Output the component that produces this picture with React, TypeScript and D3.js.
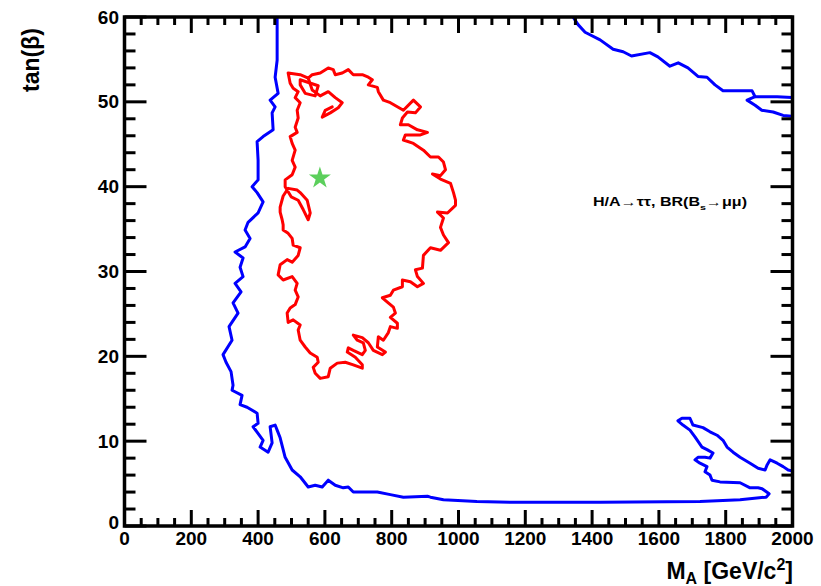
import React from "react";
import * as d3 from "d3";

// axis definitions
const xTickValues = [0, 200, 400, 600, 800, 1000, 1200, 1400, 1600, 1800, 2000];
const yTickValues = [0, 10, 20, 30, 40, 50, 60];

// blue contour: left arm, bottom, lower-right island (M_A, tanβ)
const blueMain: [number, number][] = [
  [457, 60.0], [457, 54.9], [451, 52.9], [460, 51.0], [436, 50.2], [451, 49.4], [442, 48.7],
  [445, 46.7], [415, 45.9], [397, 45.3], [400, 43.1], [400, 40.8], [382, 40.0], [397, 39.3],
  [415, 38.2], [400, 36.9], [370, 35.8], [361, 34.9], [376, 33.9], [361, 32.9], [331, 32.3],
  [355, 31.6], [346, 30.5], [355, 29.4], [331, 28.6], [349, 27.6], [325, 26.3], [340, 25.1],
  [313, 23.5], [322, 21.9], [295, 20.2], [304, 19.3], [319, 18.2], [325, 16.6], [322, 16.0],
  [352, 15.4], [346, 14.3], [367, 14.0], [397, 13.3], [400, 12.1], [385, 11.7], [415, 10.1],
  [406, 9.3], [430, 8.7], [442, 9.8], [436, 11.7], [451, 11.9], [457, 11.3], [466, 10.4],
  [481, 8.1], [502, 6.6], [526, 5.8], [550, 4.6], [571, 4.8], [592, 4.6], [610, 5.4],
  [631, 4.8], [655, 4.5], [670, 4.6], [685, 4.0], [715, 4.0], [757, 4.0], [796, 3.7],
  [835, 3.4], [907, 3.5], [916, 3.4], [955, 3.1], [1055, 2.9], [1154, 2.8], [1424, 2.8],
  [1723, 2.9], [1843, 3.1], [1921, 3.4], [1930, 3.8], [1909, 4.4], [1897, 4.5], [1873, 4.5],
  [1843, 5.1], [1783, 5.2], [1759, 5.4], [1753, 6.0], [1738, 6.4], [1744, 7.0], [1723, 7.4],
  [1708, 7.8], [1717, 8.1], [1738, 8.1], [1753, 8.0], [1762, 8.6], [1744, 9.0], [1729, 9.3],
  [1708, 10.5], [1693, 11.3], [1672, 11.9], [1657, 12.4], [1669, 12.7], [1693, 12.7],
  [1702, 11.9], [1732, 11.6], [1753, 11.1], [1774, 10.7], [1792, 10.1], [1804, 9.3],
  [1822, 8.7], [1843, 8.1], [1873, 7.4], [1897, 6.8], [1918, 6.6], [1924, 7.2], [1933, 7.8],
  [1954, 7.4], [1972, 7.0], [1987, 6.6], [1998, 6.5],
];

// blue contour: upper-right edge
const blueTopRight: [number, number][] = [
  [1343, 60.0], [1358, 59.1], [1379, 58.2], [1424, 57.3], [1463, 56.2], [1493, 55.9],
  [1518, 55.4], [1573, 55.8], [1597, 55.3], [1633, 54.2], [1658, 54.6], [1687, 54.0],
  [1717, 53.0], [1744, 52.9], [1768, 52.0], [1792, 51.3], [1879, 51.3], [1888, 50.6],
  [1954, 50.6], [1998, 50.5],
];

const blueTopRightBranch: [number, number][] = [
  [1888, 50.6], [1864, 50.2], [1888, 49.6], [1908, 49.0], [1942, 48.8], [1972, 48.4], [1998, 48.3],
];

// red contour
const redContour: [number, number][] = [
  [490, 53.4], [526, 53.2], [550, 52.8], [562, 53.2], [586, 53.4], [610, 54.0], [625, 53.8],
  [631, 53.2], [652, 53.4], [670, 53.8], [685, 53.2], [712, 53.2], [730, 52.9], [742, 52.6],
  [730, 52.0], [757, 51.7], [760, 51.2], [775, 50.2], [796, 49.9], [835, 49.0], [865, 50.2],
  [886, 49.4], [871, 48.7], [847, 48.8], [832, 48.1], [826, 47.3], [850, 47.3], [877, 46.7],
  [907, 46.4], [886, 46.1], [841, 46.1], [835, 45.5], [865, 45.1], [895, 44.3], [916, 43.5],
  [940, 43.5], [955, 42.9], [961, 42.0], [946, 41.3], [922, 41.5], [946, 40.9], [976, 40.4],
  [985, 39.3], [991, 38.4], [991, 37.8], [967, 36.9], [937, 37.0], [955, 36.3], [946, 35.2],
  [955, 34.3], [970, 33.4], [946, 32.5], [916, 32.8], [895, 31.9], [892, 30.4], [871, 30.2],
  [877, 29.4], [895, 28.6], [877, 28.2], [856, 28.8], [832, 29.0], [832, 28.2], [805, 27.8],
  [796, 27.2], [772, 26.9], [787, 26.4], [805, 25.8], [811, 25.1], [796, 24.6], [817, 23.9],
  [817, 23.3], [796, 23.5], [790, 22.8], [775, 21.9], [760, 22.3], [757, 21.1], [781, 20.5],
  [772, 20.2], [745, 20.7], [730, 21.6], [712, 22.2], [685, 22.5], [697, 21.9], [715, 21.6],
  [721, 20.7], [712, 20.2], [685, 20.7], [670, 21.0], [667, 20.5], [691, 19.9], [712, 19.0],
  [712, 18.6], [685, 19.0], [661, 19.3], [637, 19.2], [616, 18.6], [610, 17.6], [586, 17.4],
  [571, 18.0], [565, 18.7], [580, 19.3], [577, 19.9], [556, 20.4], [541, 21.1], [526, 21.9],
  [520, 23.1], [526, 23.7], [505, 24.3], [490, 24.0], [487, 25.1], [496, 25.7], [511, 26.1],
  [520, 27.0], [511, 27.8], [517, 28.6], [502, 29.4], [475, 29.0], [460, 29.6], [466, 30.8],
  [487, 31.4], [502, 31.1], [520, 31.9], [526, 32.8], [505, 33.1], [502, 33.9], [490, 34.5],
  [475, 34.9], [475, 35.5], [472, 36.1], [466, 37.0], [466, 37.6], [475, 38.9], [490, 39.8],
  [517, 39.6], [526, 39.3], [547, 38.4], [556, 36.9], [550, 36.1], [535, 37.3], [520, 38.4],
  [499, 38.8], [481, 40.0], [481, 40.8], [502, 41.4], [511, 42.3], [502, 43.1], [511, 44.3],
  [502, 45.1], [496, 45.9], [517, 46.4], [511, 47.0], [520, 48.1], [517, 49.0], [526, 49.9],
  [511, 50.5], [520, 51.2], [505, 51.6], [496, 52.2], [490, 53.4],
];

const redInnerA: [number, number][] = [
  [550, 52.8], [562, 51.4], [586, 50.7], [610, 51.2], [631, 50.5], [652, 49.9], [640, 49.3],
  [616, 48.7], [592, 48.2], [601, 49.0], [622, 49.4],
];

const redInnerB: [number, number][] = [
  [526, 52.6], [580, 51.9], [571, 50.7], [541, 51.0], [526, 52.0], [526, 52.6],
];

// benchmark point
const starPoint: [number, number] = [585, 41];

const W = 821;
const H = 586;
const left = 124.5;
const right = 792.5;
const top = 17;
const bottom = 526;

const FONT = "'Liberation Sans', Arial, Helvetica, sans-serif";

export default function App() {
  const x = d3.scaleLinear().domain([0, 2000]).range([left, right]);
  const y = d3.scaleLinear().domain([0, 60]).range([bottom, top]);
  const line = d3
    .line<[number, number]>()
    .x((d) => x(d[0]))
    .y((d) => y(d[1]));

  const xMinor = d3.range(0, 2001, 50);
  const yMinor = d3.range(0, 61, 2);
  const star = d3.symbol().type(d3.symbolStar).size(150)();

  return (
    <div style={{ position: "absolute", left: 0, top: 0, width: W, height: H, background: "#fff" }}>
      <svg width={W} height={H} style={{ display: "block" }}>
        <rect x={0} y={0} width={W} height={H} fill="#fff" />
        <defs>
          <clipPath id="plotclip">
            <rect x={left} y={top} width={right - left} height={bottom - top} />
          </clipPath>
        </defs>
        <g clipPath="url(#plotclip)" fill="none" strokeLinejoin="round" strokeLinecap="round">
          <path d={line(blueMain) || ""} stroke="#0000ff" strokeWidth={3} />
          <path d={line(blueTopRight) || ""} stroke="#0000ff" strokeWidth={3} />
          <path d={line(blueTopRightBranch) || ""} stroke="#0000ff" strokeWidth={3} />
          <path d={line(redContour) || ""} stroke="#ff0000" strokeWidth={3} />
          <path d={line(redInnerA) || ""} stroke="#ff0000" strokeWidth={3} />
          <path d={line(redInnerB) || ""} stroke="#ff0000" strokeWidth={3} />
          <path
            d={star || ""}
            transform={`translate(${x(starPoint[0])},${y(starPoint[1])})`}
            fill="#5ccf5c"
            stroke="none"
          />
        </g>

        {/* ticks */}
        <g stroke="#000" strokeWidth={3}>
          {xMinor.map((v) => {
            const len = v % 200 === 0 ? 16 : 8;
            return (
              <g key={"xt" + v}>
                <line x1={x(v)} x2={x(v)} y1={bottom} y2={bottom - len} />
                <line x1={x(v)} x2={x(v)} y1={top} y2={top + len} />
              </g>
            );
          })}
          {yMinor.map((v) => {
            const len = v % 10 === 0 ? 22 : 11;
            return (
              <g key={"yt" + v}>
                <line x1={left} x2={left + len} y1={y(v)} y2={y(v)} />
                <line x1={right} x2={right - len} y1={y(v)} y2={y(v)} />
              </g>
            );
          })}
        </g>
        <rect
          x={left}
          y={top}
          width={right - left}
          height={bottom - top}
          fill="none"
          stroke="#000"
          strokeWidth={3.5}
        />

        {/* tick labels */}
        <g fontFamily={FONT} fontWeight="bold" fontSize={19} fill="#000">
          {xTickValues.map((v) => (
            <text key={"xl" + v} x={x(v)} y={545} textAnchor="middle">
              {v}
            </text>
          ))}
          {yTickValues.map((v) => (
            <text
              key={"yl" + v}
              x={119}
              y={v === 0 ? y(v) - 4 : y(v)}
              textAnchor="end"
              dominantBaseline="central"
            >
              {v}
            </text>
          ))}
        </g>

        {/* axis titles */}
        <text
          transform="translate(31,60) rotate(-90)"
          textAnchor="middle"
          dominantBaseline="central"
          fontFamily={FONT}
          fontWeight="bold"
          fontSize={23}
        >
          tan(β)
        </text>
        <text x={793} y={579} textAnchor="end" fontFamily={FONT} fontWeight="bold" fontSize={23}>
          M
          <tspan dy={5} fontSize={16}>
            A
          </tspan>
          <tspan dy={-5}> [GeV/c</tspan>
          <tspan dy={-9} fontSize={16}>
            2
          </tspan>
          <tspan dy={9}>]</tspan>
        </text>

        {/* legend label */}
        <text
          x={593}
          y={206}
          fontFamily={FONT}
          fontWeight="bold"
          fontSize={12}
          textLength={154}
          lengthAdjust="spacingAndGlyphs"
        >
          H/A→ττ, BR(B
          <tspan dy={4} fontSize={8}>
            s
          </tspan>
          <tspan dy={-4}>→μμ)</tspan>
        </text>
      </svg>
    </div>
  );
}
